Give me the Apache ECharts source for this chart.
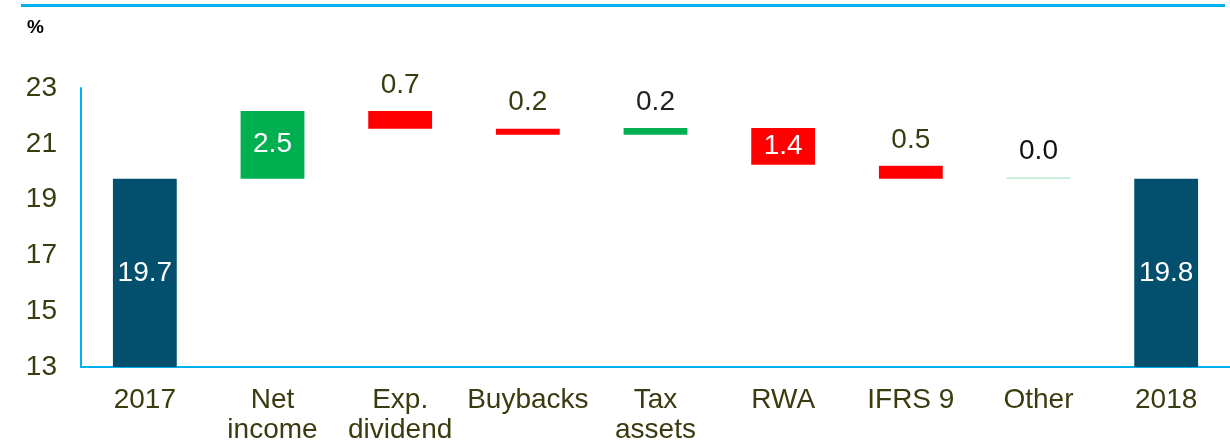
<!DOCTYPE html>
<html>
<head>
<meta charset="utf-8">
<title>CET1 bridge 2017-2018</title>
<script src="https://cdn.jsdelivr.net/npm/echarts@6/dist/echarts.min.js"></script>
<style>
  html, body { margin: 0; padding: 0; background: #fff; }
  #main { width: 1230px; height: 445px; }
</style>
</head>
<body>
<div id="main"></div>
<script>
// data
const categories = ["2017", "Net\nincome", "Exp.\ndividend", "Buybacks", "Tax\nassets", "RWA", "IFRS 9", "Other", "2018"];
const barLow = [13, 19.75, 21.54, 21.32, 21.32, 20.25, 19.75, 19.75, 13];
const barHigh = [19.75, 22.18, 22.18, 21.54, 21.57, 21.57, 20.21, 19.79, 19.75];
const shownValues = ["19.7", "2.5", "0.7", "0.2", "0.2", "1.4", "0.5", "0.0", "19.8"];
const barKind = ["total", "up", "down", "down", "up", "down", "down", "other", "total"];
const yTicks = [13, 15, 17, 19, 21, 23];

const kindColor = { total: "#034f6e", up: "#00b050", down: "#ff0000", other: "#aee5c6" };
const labelColor = ["#fff", "#fff", "#3b3b10", "#3b3b10", "#222", "#fff", "#3b3b10", "#111", "#fff"];

const font = "'Liberation Sans', Arial, sans-serif";
const myChart = echarts.init(document.getElementById("main"));

// tall bars carry their label inside, short ones above
const changeData = categories.map((c, i) => {
  const inside = barHigh[i] - barLow[i] > 1;
  return {
    value: +(barHigh[i] - barLow[i]).toFixed(2),
    itemStyle: { color: kindColor[barKind[i]] },
    label: {
      show: true,
      position: inside ? "inside" : "top",
      distance: 12,
      formatter: shownValues[i],
      color: labelColor[i]
    }
  };
});

myChart.setOption({
  animation: false,
  textStyle: { fontFamily: font },
  grid: { left: 81, top: 88, width: 1152, height: 280 },
  graphic: [
    { type: "rect", shape: { x: 21, y: 4, width: 1204, height: 3 }, style: { fill: "#00b0f0" } },
    { type: "text", left: 27, top: 18, style: { text: "%", font: "bold 19px " + font, fill: "#000" } }
  ],
  xAxis: {
    type: "category",
    data: categories,
    axisTick: { show: false },
    axisLine: { lineStyle: { color: "#00b0f0", width: 2 } },
    axisLabel: { color: "#3b3b10", fontSize: 28, lineHeight: 30, margin: 18, interval: 0 }
  },
  yAxis: {
    type: "value",
    min: yTicks[0],
    max: yTicks[yTicks.length - 1],
    interval: 2,
    splitLine: { show: false },
    axisTick: { show: false },
    axisLine: { show: true, lineStyle: { color: "#00b0f0", width: 2 } },
    axisLabel: { color: "#3b3b10", fontSize: 28, margin: 24 }
  },
  series: [
    {
      name: "base",
      type: "bar",
      stack: "w",
      barWidth: "50%",
      itemStyle: { color: "transparent" },
      emphasis: { disabled: true },
      data: barLow
    },
    {
      name: "change",
      type: "bar",
      stack: "w",
      barWidth: "50%",
      label: { fontSize: 28, fontFamily: font },
      data: changeData
    }
  ]
});

window.onresize = myChart.resize;
</script>
</body>
</html>
